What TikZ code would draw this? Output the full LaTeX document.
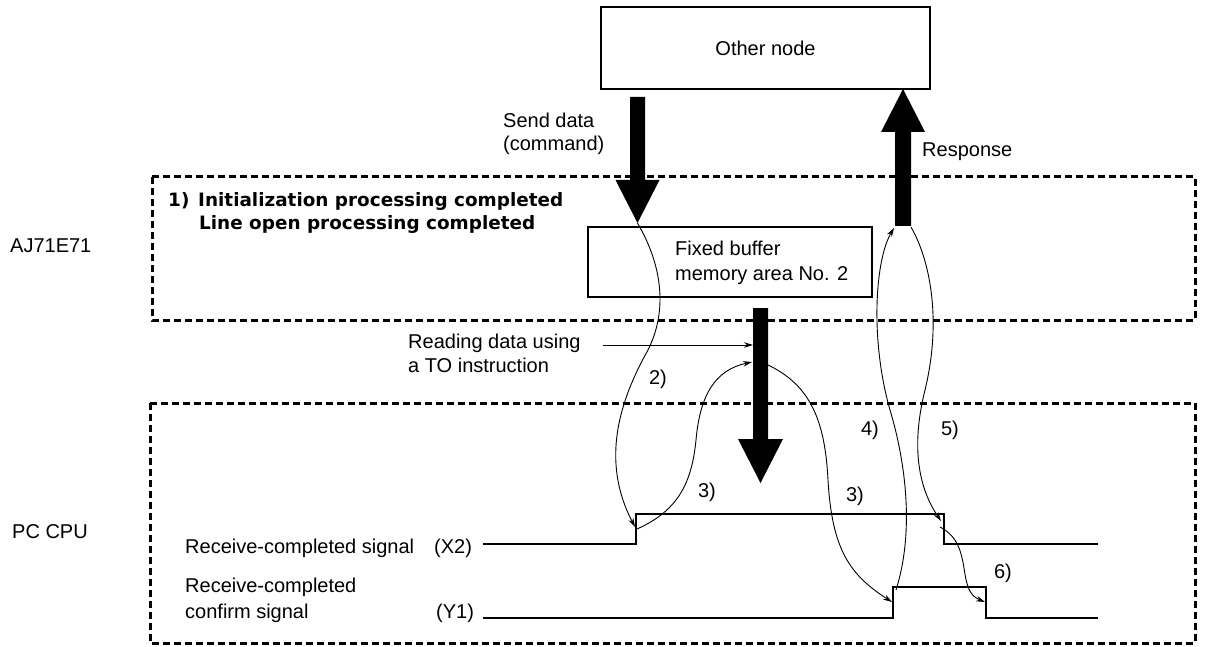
\documentclass[tikz,border=0pt]{standalone}
\usepackage{fontspec}
\setmainfont{Liberation Sans}
\newfontfamily\initfont{DejaVu Sans}
\usetikzlibrary{arrows.meta}
\begin{document}
\begin{tikzpicture}[x=1pt,y=-1pt,
  txt/.style={font=\fontsize{20}{24}\selectfont, inner sep=0pt, anchor=base west},
  txtc/.style={font=\fontsize{20}{24}\selectfont, inner sep=0pt, anchor=base},
  boldtxt/.style={font=\initfont\bfseries\fontsize{18.4}{22}\selectfont, inner sep=0pt, anchor=base west},
  box/.style={draw, line width=1.5pt, inner sep=0pt},
  dashregion/.style={draw, line width=3pt, dash pattern=on 7pt off 4pt},
  wave/.style={line width=1.4pt},
  flow/.style={line width=0.9pt, -{Stealth[length=9pt,width=5.5pt]}},
  bigarrow/.style={fill=black}]
\useasboundingbox (0,0) rectangle (1208,647);

% regions
\draw[dashregion] (152,177) rectangle (1195,320);
\draw[dashregion] (150,403) rectangle (1195,643);

% boxes
\node[box, minimum width=329pt, minimum height=82pt, txtc, anchor=center] (other) at (765.5,48) {Other node};
\node[box, minimum width=284pt, minimum height=70pt] (fixed) at (730,262) {};
\node[txt] (fb1) at (675,256) {Fixed buffer};
\node[txt] (fb2) at (675,280) {memory area No. 2};

% left labels
\node[txt] (aj) at (10,253) {AJ71E71};
\node[txt] (pc) at (12,538) {PC CPU};

% bold text
\node[boldtxt] (one) at (168,207) {1)};
\node[boldtxt] (init1) at (198,207) {Initialization processing completed};
\node[boldtxt] (init2) at (199,230) {Line open processing completed};

% other labels
\node[txt] (send1) at (503,128) {Send data};
\node[txt] (send2) at (503,151) {(command)};
\node[txt] (resp) at (922,157) {Response};
\node[txt] (read1) at (408,348) {Reading data using};
\node[txt] (read2) at (408,372) {a TO instruction};

\node[txt] (x2lab) at (185,553) {Receive-completed signal};
\node[txt] (x2) at (434,553) {(X2)};
\node[txt] (y1lab1) at (185,592) {Receive-completed};
\node[txt] (y1lab2) at (185,618) {confirm signal};
\node[txt] (y1) at (436,618) {(Y1)};

\node[txtc] (n2) at (658,384) {2)};
\node[txtc] (n3a) at (707,497) {3)};
\node[txtc] (n3b) at (855,501) {3)};
\node[txtc] (n4) at (870,435) {4)};
\node[txtc] (n5) at (950,435) {5)};
\node[txtc] (n6) at (1003,578) {6)};

% big arrows
\coordinate (sendtop) at (637.5,97);
\coordinate (sendtip) at (637.5,223);
\fill[bigarrow] (sendtop) ++(-7.5,0) -- ++(15,0) -- ++(0,83) -- ++(14.5,0) -- (sendtip) -- ++(-22,-43) -- ++(14.5,0) -- cycle;

\coordinate (respbot) at (903,226);
\coordinate (resptip) at (903,89);
\fill[bigarrow] (respbot) ++(-8,0) -- ++(16,0) -- ++(0,-94) -- ++(14,0) -- (resptip) -- ++(-22,43) -- ++(14,0) -- cycle;

\coordinate (readtop) at (760.5,308);
\coordinate (readtip) at (760.5,483);
\fill[bigarrow] (readtop) ++(-7.5,0) -- ++(15,0) -- ++(0,131) -- ++(15,0) -- (readtip) -- ++(-22.5,-44) -- ++(15,0) -- cycle;

% waveforms
\draw[wave] (483,544) -- (636,544) -- (636,514) -- (944,514) -- (944,544) -- (1098,544);
\draw[wave] (483,618) -- (893,618) -- (893,587) -- (986,587) -- (986,618) -- (1098,618);

% curve end points
\coordinate (x2rise) at (635,527);
\coordinate (x2riseb) at (637,529);
\coordinate (readL) at (752,362);
\coordinate (readR) at (768,365);
\coordinate (y1rise) at (892,602);
\coordinate (y1top) at (896,590);
\coordinate (respL) at (894,228);
\coordinate (respR) at (911,227);
\coordinate (x2fall) at (941,521);
\coordinate (x2fallb) at (940,527);
\coordinate (y1fall) at (985,602);
\coordinate (readlab) at (603,345);
\coordinate (readhit) at (753,345);

% flows
\draw[flow] (readlab) -- (readhit);
\draw[flow] (sendtip) .. controls (662,265) and (668,310) .. (648,350) .. controls (620,400) and (600,460) .. (x2rise);
\draw[flow] (x2riseb) .. controls (680,510) and (692,480) .. (696,440) .. controls (700,395) and (715,370) .. (readL);
\draw[flow] (readR) .. controls (810,385) and (825,420) .. (828,480) .. controls (832,550) and (850,575) .. (y1rise);
\draw[flow] (y1top) .. controls (915,530) and (905,460) .. (890,410) .. controls (870,340) and (875,260) .. (respL);
\draw[flow] (respR) .. controls (930,260) and (942,320) .. (925,390) .. controls (910,450) and (920,490) .. (x2fall);
\draw[flow] (x2fallb) .. controls (975,545) and (955,590) .. (y1fall);
\end{tikzpicture}
\end{document}
